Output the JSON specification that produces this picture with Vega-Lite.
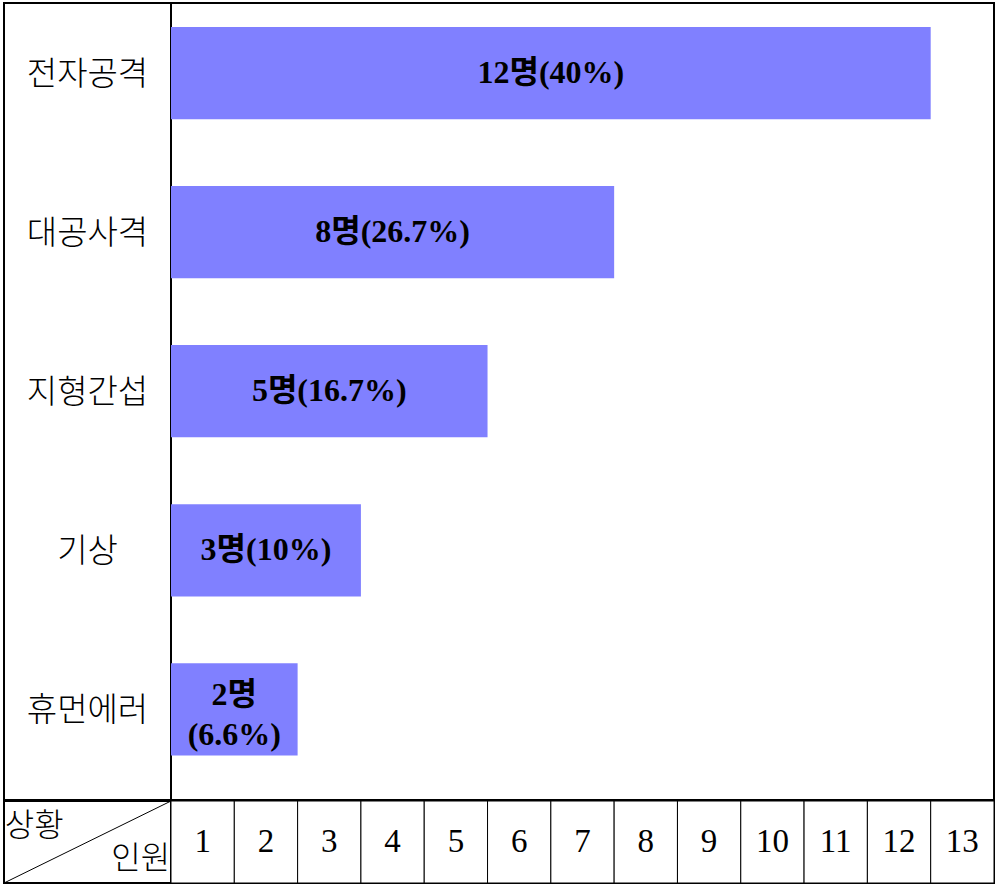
{
  "$schema": "https://vega.github.io/schema/vega-lite/v6.json",
  "padding": {"left": 2, "top": 2, "right": 2, "bottom": 2},
  "background": "white",
  "spacing": -2,
  "config": {
    "view": {"stroke": "#000000", "strokeWidth": 2},
    "concat": {"spacing": 0}
  },
  "datasets": {
    "bars": [
      {"cat": "전자공격", "n": 12, "label": "12명(40%)"},
      {"cat": "대공사격", "n": 7, "label": "8명(26.7%)"},
      {"cat": "지형간섭", "n": 5, "label": "5명(16.7%)"},
      {"cat": "기상", "n": 3, "label": "3명(10%)"},
      {"cat": "휴먼에러", "n": 2, "label": "2명\n(6.6%)"}
    ],
    "nums": [
      {"n": 1}, {"n": 2}, {"n": 3}, {"n": 4}, {"n": 5}, {"n": 6}, {"n": 7},
      {"n": 8}, {"n": 9}, {"n": 10}, {"n": 11}, {"n": 12}, {"n": 13}
    ],
    "head": [
      {"t": "상황", "pos": "top"},
      {"t": "인원", "pos": "bottom"}
    ]
  },
  "vconcat": [
    {
      "bounds": "flush",
      "spacing": 0,
      "hconcat": [
        {
          "width": 167,
          "height": 797,
          "data": {"name": "bars"},
          "mark": {"type": "text", "font": "Noto Sans CJK KR", "fontWeight": 300, "fontSize": 33, "color": "#000000", "align": "center", "baseline": "middle", "dy": 2},
          "encoding": {
            "y": {"field": "cat", "type": "nominal", "sort": null, "axis": null,
                  "scale": {"type": "band", "paddingInner": 0.42, "paddingOuter": 0.215, "align": 0.35}},
            "text": {"field": "cat"}
          }
        },
        {
          "width": 823,
          "height": 797,
          "data": {"name": "bars"},
          "encoding": {
            "y": {"field": "cat", "type": "nominal", "sort": null, "axis": null,
                  "scale": {"type": "band", "paddingInner": 0.42, "paddingOuter": 0.215, "align": 0.35}}
          },
          "layer": [
            {
              "mark": {"type": "bar", "color": "#8080FF"},
              "encoding": {
                "x": {"field": "n", "type": "quantitative", "axis": null,
                      "scale": {"domain": [0, 13], "nice": false, "zero": true}}
              }
            },
            {
              "transform": [{"filter": "indexof(datum.label, '\\n') < 0"}],
              "mark": {"type": "text", "font": "Liberation Serif, Noto Sans CJK KR", "fontWeight": "bold", "fontSize": 32,
                       "align": "center", "baseline": "middle", "color": "#000000"},
              "encoding": {
                "x": {"field": "n", "type": "quantitative", "stack": "zero", "bandPosition": 0.5, "axis": null},
                "text": {"field": "label"}
              }
            },
            {
              "transform": [{"filter": "indexof(datum.label, '\\n') >= 0"}],
              "mark": {"type": "text", "font": "Liberation Serif, Noto Sans CJK KR", "fontWeight": "bold", "fontSize": 32,
                       "lineBreak": "\n", "lineHeight": 40, "align": "center", "baseline": "middle", "color": "#000000", "dy": -14},
              "encoding": {
                "x": {"field": "n", "type": "quantitative", "stack": "zero", "bandPosition": 0.5, "axis": null},
                "text": {"field": "label"}
              }
            }
          ]
        }
      ]
    },
    {
      "bounds": "flush",
      "spacing": 0,
      "hconcat": [
        {
          "width": 167,
          "height": 82,
          "layer": [
            {
              "data": {"values": [{"line": "diag"}]},
              "mark": {"type": "rule", "color": "#000000", "strokeWidth": 1},
              "encoding": {
                "x": {"datum": 0, "type": "quantitative", "axis": null, "scale": {"domain": [0, 1], "nice": false, "zero": false}},
                "y": {"datum": 0, "type": "quantitative", "axis": null, "scale": {"domain": [0, 1], "nice": false, "zero": false}},
                "x2": {"datum": 1},
                "y2": {"datum": 1}
              }
            },
            {
              "data": {"name": "head"},
              "transform": [{"filter": "datum.pos == 'top'"}],
              "mark": {"type": "text", "font": "Noto Sans CJK KR", "fontWeight": 300, "fontSize": 32, "align": "left", "baseline": "middle", "color": "#000000"},
              "encoding": {
                "x": {"datum": 0.005, "type": "quantitative"},
                "y": {"datum": 0.69, "type": "quantitative"},
                "text": {"field": "t"}
              }
            },
            {
              "data": {"name": "head"},
              "transform": [{"filter": "datum.pos == 'bottom'"}],
              "mark": {"type": "text", "font": "Noto Sans CJK KR", "fontWeight": 300, "fontSize": 32, "align": "right", "baseline": "middle", "color": "#000000"},
              "encoding": {
                "x": {"datum": 0.995, "type": "quantitative"},
                "y": {"datum": 0.29, "type": "quantitative"},
                "text": {"field": "t"}
              }
            }
          ]
        },
        {
          "width": 823,
          "height": 82,
          "data": {"name": "nums"},
          "encoding": {
            "x": {"field": "n", "type": "ordinal", "axis": null,
                  "scale": {"paddingInner": 0, "paddingOuter": 0}}
          },
          "layer": [
            {"mark": {"type": "rect", "fill": "#ffffff", "stroke": "#000000", "strokeWidth": 1}},
            {
              "mark": {"type": "text", "font": "Liberation Serif", "fontSize": 33, "align": "center", "baseline": "middle", "color": "#000000"},
              "encoding": {"text": {"field": "n"}}
            }
          ]
        }
      ]
    }
  ]
}
